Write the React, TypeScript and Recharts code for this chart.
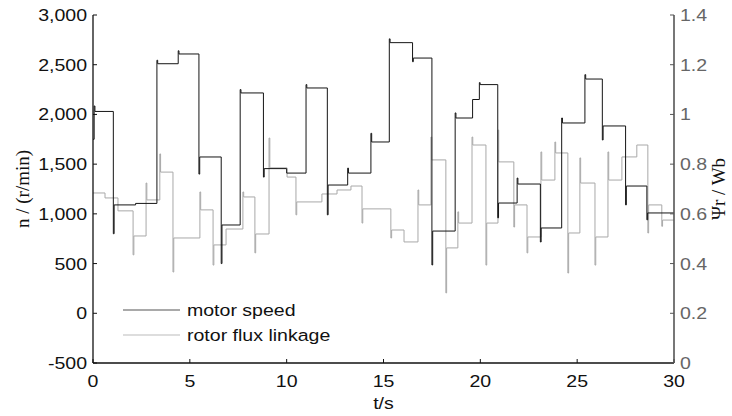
import React from 'react';
import { LineChart, Line, XAxis, YAxis } from 'recharts';

// ---- data ----
const speedTimes = [0, 0.06, 1.05, 2.2, 3.3, 4.4, 5.47, 6.62, 7.6, 8.8, 10.0, 11.0, 12.1, 13.15, 14.35, 15.3, 16.5, 17.5, 18.7, 19.6, 19.95, 20.9, 21.9, 23.1, 24.2, 25.4, 26.3, 27.5, 28.6];
const speedLevels = [1750, 2030, 1090, 1105, 2510, 2608, 1572, 888, 2216, 1455, 1410, 2266, 1290, 1410, 1723, 2722, 2567, 827, 1964, 2150, 2300, 1109, 1300, 858, 1914, 2356, 1884, 1280, 1009];
const speedSpikes: (number | null)[] = [null, 2085, 800, null, 2545, 2640, 1400, 500, 2250, 1370, null, 2300, 990, 1460, 1810, 2760, 2530, 486, 2015, null, 2320, 960, 1360, 717, 1964, 2400, 1743, 1090, 940];

const fluxTimes = [0, 0.62, 1.29, 2.07, 2.74, 3.45, 4.13, 5.52, 6.2, 6.87, 7.74, 8.36, 9.09, 10.02, 10.48, 11.82, 12.6, 13.32, 13.89, 15.38, 16.06, 16.78, 17.45, 18.22, 18.84, 19.57, 20.29, 20.91, 21.73, 22.41, 23.13, 23.85, 24.52, 25.14, 25.92, 26.59, 27.31, 28.08, 28.65, 29.37];
const fluxLevels = [0.684, 0.664, 0.612, 0.511, 0.656, 0.768, 0.503, 0.616, 0.475, 0.539, 0.668, 0.519, 0.785, 0.748, 0.648, 0.68, 0.696, 0.712, 0.62, 0.535, 0.487, 0.636, 0.817, 0.463, 0.563, 0.877, 0.563, 0.809, 0.636, 0.507, 0.736, 0.845, 0.523, 0.724, 0.507, 0.736, 0.829, 0.877, 0.636, 0.575];
const fluxSpikes: (number | null)[] = [null, null, null, 0.435, 0.724, 0.841, 0.366, 0.688, 0.394, null, 0.688, 0.443, 0.905, null, 0.596, null, null, null, 0.563, 0.503, null, 0.696, 0.909, 0.282, 0.608, 0.909, 0.394, 0.937, 0.547, 0.443, 0.849, 0.889, 0.362, 0.825, 0.394, 0.849, null, null, 0.523, 0.55];

const xTicks = [0, 5, 10, 15, 20, 25, 30];
const leftTicks = [-500, 0, 500, 1000, 1500, 2000, 2500, 3000];
const rightTicks = [0, 0.2, 0.4, 0.6, 0.8, 1, 1.2, 1.4];
const legendNames = ['motor speed', 'rotor flux linkage'];
const T_END = 30;

function buildSteps(times: number[], levels: number[], spikes: (number | null)[], key: string) {
  const pts: any[] = [];
  for (let i = 0; i < times.length; i++) {
    const s = spikes[i];
    if (s != null) {
      pts.push({ t: times[i], [key]: s });
      pts.push({ t: times[i] + 0.04, [key]: levels[i] });
    } else {
      pts.push({ t: times[i], [key]: levels[i] });
    }
  }
  pts.push({ t: T_END, [key]: levels[levels.length - 1] });
  return pts;
}

const speedData = buildSteps(speedTimes, speedLevels, speedSpikes, 'speed');
const fluxData = buildSteps(fluxTimes, fluxLevels, fluxSpikes, 'flux');

const SANS = '"Liberation Sans", Arial, sans-serif';
const SERIF = '"Liberation Serif", "Times New Roman", serif';
const FS = 17;
const SX = 1.15;

const LeftTick = (p: any) => (
  <text transform={`translate(${p.x - 6},${p.y}) scale(${SX},1)`} textAnchor="end" dominantBaseline="central" fontFamily={SANS} fontSize={FS} fill="#111">
    {Number(p.payload.value).toLocaleString('en-US')}
  </text>
);
const RightTick = (p: any) => (
  <text transform={`translate(${p.x + 6},${p.y}) scale(${SX},1)`} textAnchor="start" dominantBaseline="central" fontFamily={SANS} fontSize={FS} fill="#666">
    {String(Number(Number(p.payload.value).toFixed(1)))}
  </text>
);
const BottomTick = (p: any) => (
  <text transform={`translate(${p.x},${p.y + 18}) scale(${SX},1)`} textAnchor="middle" dominantBaseline="central" fontFamily={SANS} fontSize={FS} fill="#111">
    {String(p.payload.value)}
  </text>
);
const NoTick = () => <g />;

const LeftLabel = (p: any) => {
  const vb = p.viewBox || {};
  const cx = vb.x + 22;
  const cy = vb.y + vb.height / 2;
  return (
    <text x={cx} y={cy} transform={`rotate(-90 ${cx} ${cy})`} textAnchor="middle" dominantBaseline="central" fontFamily={SERIF} fontSize={19} fill="#111">
      n / (r/min)
    </text>
  );
};
const RightLabel = (p: any) => {
  const vb = p.viewBox || {};
  const cx = vb.x + 44;
  const cy = vb.y + vb.height / 2;
  return (
    <text x={cx} y={cy} transform={`rotate(-90 ${cx} ${cy})`} textAnchor="middle" dominantBaseline="central" fontFamily={SERIF} fontSize={19} fill="#111">
      Ψr / Wb
    </text>
  );
};
const BottomLabel = (p: any) => {
  const vb = p.viewBox || {};
  const cx = vb.x + vb.width / 2;
  const cy = vb.y + 40;
  return (
    <text transform={`translate(${cx},${cy}) scale(${SX},1)`} textAnchor="middle" dominantBaseline="central" fontFamily={SANS} fontSize={FS} fill="#111">
      t/s
    </text>
  );
};

export default function App() {
  return (
    <div style={{ position: 'absolute', left: 0, top: 0, width: 732, height: 416, background: '#fff' }}>
      <LineChart width={732} height={416} margin={{ top: 15, right: 0, bottom: 0, left: 0 }}>
        <XAxis
          xAxisId="b"
          type="number"
          dataKey="t"
          domain={[0, 30]}
          ticks={xTicks}
          allowDataOverflow
          height={53}
          tickSize={-4}
          tickMargin={4}
          tick={BottomTick}
          axisLine={{ stroke: '#111', strokeWidth: 1.3 }}
          tickLine={{ stroke: '#111' }}
          label={<BottomLabel />}
        />
        <XAxis
          xAxisId="top"
          orientation="top"
          type="number"
          dataKey="t"
          domain={[0, 30]}
          ticks={xTicks}
          allowDataOverflow
          height={0}
          tickSize={-4}
          tick={NoTick}
          axisLine={{ stroke: '#111', strokeWidth: 1.3 }}
          tickLine={{ stroke: '#111' }}
        />
        <YAxis
          yAxisId="left"
          orientation="left"
          type="number"
          domain={[-500, 3000]}
          ticks={leftTicks}
          allowDataOverflow
          width={93}
          tickSize={-4}
          tickMargin={4}
          tick={LeftTick}
          axisLine={{ stroke: '#111', strokeWidth: 1.3 }}
          tickLine={{ stroke: '#111' }}
          label={<LeftLabel />}
        />
        <YAxis
          yAxisId="right"
          orientation="right"
          type="number"
          domain={[0, 1.4]}
          ticks={rightTicks}
          allowDataOverflow
          width={58}
          tickSize={-4}
          tickMargin={4}
          tick={RightTick}
          axisLine={{ stroke: '#555', strokeWidth: 1.6 }}
          tickLine={{ stroke: '#555' }}
          label={<RightLabel />}
        />
        <Line
          xAxisId="b"
          yAxisId="right"
          data={fluxData}
          dataKey="flux"
          type="stepAfter"
          stroke="#a8a8a8"
          strokeWidth={1}
          dot={false}
          activeDot={false}
          isAnimationActive={false}
          name={legendNames[1]}
        />
        <Line
          xAxisId="b"
          yAxisId="left"
          data={speedData}
          dataKey="speed"
          type="stepAfter"
          stroke="#151515"
          strokeWidth={1}
          dot={false}
          activeDot={false}
          isAnimationActive={false}
          name={legendNames[0]}
        />
      </LineChart>
      <svg width={260} height={60} style={{ position: 'absolute', left: 120, top: 298 }}>
        <line x1={3} y1={12} x2={60} y2={12} stroke="#555" strokeWidth={1.2} />
        <text transform={`translate(67,12) scale(${SX},1)`} dominantBaseline="central" fontFamily={SANS} fontSize={FS} fill="#111">{legendNames[0]}</text>
        <line x1={3} y1={37} x2={60} y2={37} stroke="#bbb" strokeWidth={1.2} />
        <text transform={`translate(67,37) scale(${SX},1)`} dominantBaseline="central" fontFamily={SANS} fontSize={FS} fill="#111">{legendNames[1]}</text>
      </svg>
    </div>
  );
}
